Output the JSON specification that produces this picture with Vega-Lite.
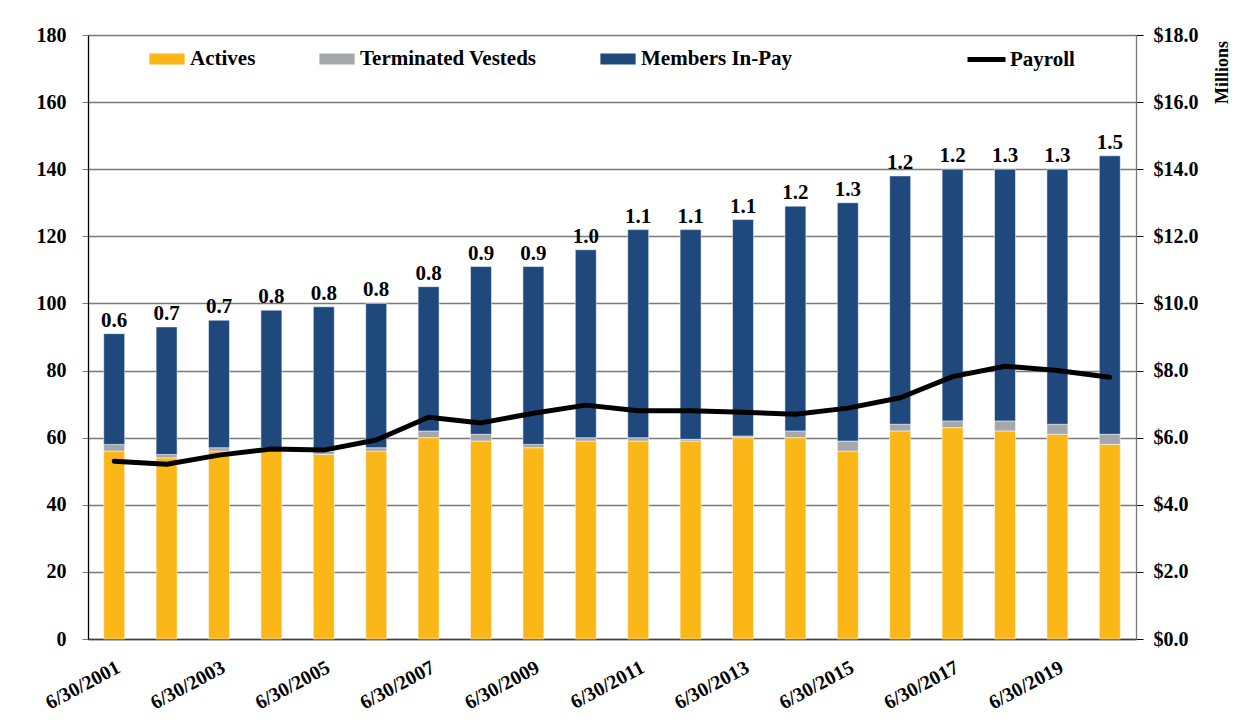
{
  "$schema": "https://vega.github.io/schema/vega-lite/v6.json",
  "width": 1048,
  "height": 604,
  "autosize": {"type": "none"},
  "padding": {"left": 88, "top": 35, "right": 113, "bottom": 87},
  "background": "white",
  "config": {
    "font": "Liberation Serif",
    "view": {"stroke": null},
    "axis": {"labelFontWeight": "bold", "labelColor": "black", "titleColor": "black", "labelFont": "Liberation Serif", "titleFont": "Liberation Serif"},
    "legend": {"labelFont": "Liberation Serif", "labelColor": "black", "labelLimit": 0}
  },
  "data": {
    "values": [
      {"date": "6/30/2001", "actives": 56, "deferred": 2, "inpay": 33, "payroll": 5.30, "ratio": 0.6},
      {"date": "6/30/2002", "actives": 54, "deferred": 1, "inpay": 38, "payroll": 5.21, "ratio": 0.7},
      {"date": "6/30/2003", "actives": 56, "deferred": 1, "inpay": 38, "payroll": 5.48, "ratio": 0.7},
      {"date": "6/30/2004", "actives": 56, "deferred": 1, "inpay": 41, "payroll": 5.66, "ratio": 0.8},
      {"date": "6/30/2005", "actives": 55, "deferred": 1, "inpay": 43, "payroll": 5.63, "ratio": 0.8},
      {"date": "6/30/2006", "actives": 56, "deferred": 1, "inpay": 43, "payroll": 5.93, "ratio": 0.8},
      {"date": "6/30/2007", "actives": 60, "deferred": 2, "inpay": 43, "payroll": 6.61, "ratio": 0.8},
      {"date": "6/30/2008", "actives": 59, "deferred": 2, "inpay": 50, "payroll": 6.44, "ratio": 0.9},
      {"date": "6/30/2009", "actives": 57, "deferred": 1, "inpay": 53, "payroll": 6.73, "ratio": 0.9},
      {"date": "6/30/2010", "actives": 59, "deferred": 1, "inpay": 56, "payroll": 6.97, "ratio": 1.0},
      {"date": "6/30/2011", "actives": 59, "deferred": 1, "inpay": 62, "payroll": 6.80, "ratio": 1.1},
      {"date": "6/30/2012", "actives": 59, "deferred": 0.5, "inpay": 62.5, "payroll": 6.80, "ratio": 1.1},
      {"date": "6/30/2013", "actives": 60, "deferred": 0.5, "inpay": 64.5, "payroll": 6.76, "ratio": 1.1},
      {"date": "6/30/2014", "actives": 60, "deferred": 2, "inpay": 67, "payroll": 6.70, "ratio": 1.2},
      {"date": "6/30/2015", "actives": 56, "deferred": 3, "inpay": 71, "payroll": 6.88, "ratio": 1.3},
      {"date": "6/30/2016", "actives": 62, "deferred": 2, "inpay": 74, "payroll": 7.19, "ratio": 1.2},
      {"date": "6/30/2017", "actives": 63, "deferred": 2, "inpay": 75, "payroll": 7.82, "ratio": 1.2},
      {"date": "6/30/2018", "actives": 62, "deferred": 3, "inpay": 75, "payroll": 8.13, "ratio": 1.3},
      {"date": "6/30/2019", "actives": 61, "deferred": 3, "inpay": 76, "payroll": 8.00, "ratio": 1.3},
      {"date": "6/30/2020", "actives": 58, "deferred": 3, "inpay": 83, "payroll": 7.80, "ratio": 1.5}
    ]
  },
  "encoding": {
    "x": {
      "field": "date",
      "type": "ordinal",
      "scale": {"paddingInner": 0.6, "paddingOuter": 0.3},
      "axis": {
        "title": null,
        "labelExpr": "toNumber(slice(datum.value, 5)) % 2 == 1 ? datum.value : ''",
        "labelAngle": -28,
        "labelAlign": "right",
        "labelBaseline": "top",
        "labelFontSize": 20,
        "labelPadding": 18,
        "ticks": false,
        "domainColor": "#404040",
        "domainWidth": 1.5,
        "labelOverlap": false
      }
    }
  },
  "layer": [
    {
      "transform": [{"fold": ["actives", "deferred", "inpay"], "as": ["series", "count"]}],
      "layer": [
        {
          "mark": {"type": "bar", "stroke": "white", "strokeWidth": 0.5},
          "encoding": {
            "y": {
              "aggregate": "sum",
              "field": "count",
              "type": "quantitative",
              "stack": "zero",
              "scale": {"domain": [0, 180]},
              "axis": {
                "title": null,
                "values": [0, 20, 40, 60, 80, 100, 120, 140, 160, 180],
                "grid": true,
                "gridColor": "#7a7a7a",
                "gridWidth": 1.3,
                "domainColor": "black",
                "domainWidth": 1.3,
                "tickColor": "#7a7a7a",
                "tickSize": 6,
                "labelPadding": 16,
                "labelFontSize": 20
              }
            },
            "fill": {
              "field": "series",
              "type": "nominal",
              "scale": {"domain": ["actives", "deferred", "inpay"], "range": ["#FBB617", "#A5A8AB", "#1F497D"]},
              "legend": {
                "orient": "none",
                "legendX": 68,
                "legendY": 13,
                "direction": "horizontal",
                "title": null,
                "padding": 0,
                "labelExpr": "datum.label == 'actives' ? 'Actives' : datum.label == 'deferred' ? 'Terminated Vesteds' : 'Members In-Pay'",
                "labelFontSize": 21,
                "labelFontWeight": "bold",
                "symbolType": "M-1.6,-0.5H1.6V0.5H-1.6Z",
                "symbolSize": 484,
                "symbolStrokeWidth": 0,
                "symbolOpacity": 1,
                "labelOffset": 12,
                "columnPadding": 63
              }
            },
            "order": {"field": "series", "sort": "ascending"}
          }
        },
        {
          "mark": {"type": "text", "baseline": "bottom", "dy": -3, "fontSize": 21, "fontWeight": "bold", "font": "Liberation Serif", "color": "black"},
          "encoding": {
            "y": {"aggregate": "sum", "field": "count", "type": "quantitative"},
            "text": {"field": "ratio", "type": "quantitative", "format": ".1f"}
          }
        }
      ]
    },
    {
      "mark": {"type": "line", "strokeWidth": 5, "strokeCap": "round", "strokeJoin": "round"},
      "encoding": {
        "y": {
          "field": "payroll",
          "type": "quantitative",
          "scale": {"domain": [0, 18]},
          "axis": {
            "orient": "right",
            "title": "Millions",
            "titleFontSize": 18,
            "titleFontWeight": "bold",
            "titleAngle": 270,
            "titleAlign": "center",
            "titleBaseline": "middle",
            "titleX": 86,
            "titleY": 37,
            "values": [0, 2, 4, 6, 8, 10, 12, 14, 16, 18],
            "format": "$.1f",
            "grid": false,
            "domainColor": "#7a7a7a",
            "domainWidth": 1.3,
            "tickColor": "black",
            "tickSize": 7,
            "labelPadding": 10,
            "labelFontSize": 20
          }
        },
        "stroke": {
          "datum": "Payroll",
          "type": "nominal",
          "scale": {"range": ["black"]},
          "legend": {
            "orient": "none",
            "legendX": 877,
            "legendY": 3,
            "title": null,
            "padding": 0,
            "labelFontSize": 21,
            "labelFontWeight": "bold",
            "symbolType": "stroke",
            "symbolSize": 1444,
            "symbolStrokeWidth": 5,
            "labelOffset": 2
          }
        }
      }
    }
  ],
  "resolve": {"scale": {"y": "independent"}}
}
